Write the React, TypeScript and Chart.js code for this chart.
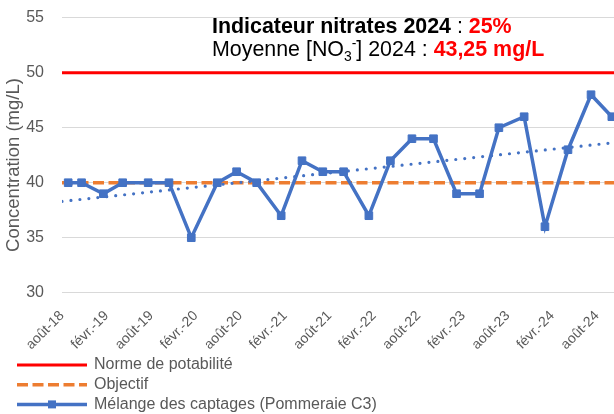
import React, { useEffect, useRef } from 'react';
import { Chart, registerables } from 'chart.js';

Chart.register(...registerables);

// ---------- Data ----------
const X_TICK_LABELS = [
  'août-18', 'févr.-19', 'août-19', 'févr.-20', 'août-20', 'févr.-21', 'août-21',
  'févr.-22', 'août-22', 'févr.-23', 'août-23', 'févr.-24', 'août-24',
];
const X_TICK_STEP_MONTHS = 6;
const AXIS_START_YEAR = 2018;
const AXIS_START_MONTH = 8;
const AXIS_END_MONTHS = 75.1;

const SAMPLE_DATES = [
  '2018-08-26', '2018-10-20', '2019-01-18', '2019-04-06', '2019-07-19', '2019-10-13',
  '2020-01-13', '2020-04-28', '2020-07-16', '2020-10-07', '2021-01-16', '2021-04-10',
  '2021-07-04', '2021-09-28', '2022-01-10', '2022-04-07', '2022-07-04', '2022-10-01',
  '2023-01-04', '2023-04-07', '2023-06-25', '2023-10-07', '2024-01-01', '2024-04-04',
  '2024-07-07', '2024-10-01',
];
const NITRATE_VALUES = [
  40, 40, 39, 40, 40, 40,
  35, 40, 41, 40, 37, 42,
  41, 41, 37, 42, 44, 44,
  39, 39, 45, 46, 36, 43,
  48, 46,
];
const NORME_VALUE = 50;
const OBJECTIF_VALUE = 40;
const TREND_START_VALUE = 38.3;
const TREND_END_VALUE = 43.7;

const Y_MIN = 30;
const Y_MAX = 55;
const Y_STEP = 5;

const SERIES_LABELS = [
  'Norme de potabilité',
  'Objectif',
  'Mélange des captages (Pommeraie C3)',
  'Linéaire (Mélange des captages (Pommeraie C3))',
];
const Y_TITLE = 'Concentration (mg/L)';
const TITLE_LINE_1 = ['Indicateur nitrates 2024', ' : ', '25%'];
const TITLE_LINE_2 = ['Moyenne [NO', '3', '-', '] 2024 : ', '43,25 mg/L'];

// ---------- Styles ----------
const FONT = "'Liberation Sans', Arial, Helvetica, sans-serif";
const GRAY = '#595959';
const RED = '#FF0000';
const ORANGE = '#ED7D31';
const BLUE = '#4472C4';

function monthsFromStart(dateStr: string): number {
  const [y, m, d] = dateStr.split('-').map(Number);
  return (y - AXIS_START_YEAR) * 12 + (m - AXIS_START_MONTH) + (d - 1) / 30;
}

type Run = { text: string; bold?: boolean; color?: string; scale?: number; dy?: number };

function drawRuns(ctx: CanvasRenderingContext2D, x: number, y: number, runs: Run[], size: number) {
  let cx = x;
  for (const r of runs) {
    const s = size * (r.scale ?? 1);
    ctx.font = `${r.bold ? 'bold ' : ''}${s}px ${FONT}`;
    ctx.fillStyle = r.color ?? '#000000';
    ctx.textAlign = 'left';
    ctx.textBaseline = 'alphabetic';
    ctx.fillText(r.text, cx, y + (r.dy ?? 0));
    cx += ctx.measureText(r.text).width;
  }
}

const overlayPlugin = {
  id: 'overlay',
  afterDraw(chart: any) {
    const ctx: CanvasRenderingContext2D = chart.ctx;
    ctx.save();

    // Title block
    const TS = 21.4;
    drawRuns(ctx, 212, 33, [
      { text: TITLE_LINE_1[0], bold: true },
      { text: TITLE_LINE_1[1] },
      { text: TITLE_LINE_1[2], bold: true, color: RED },
    ], TS);
    drawRuns(ctx, 212, 56, [
      { text: TITLE_LINE_2[0] },
      { text: TITLE_LINE_2[1], scale: 0.65, dy: 5 },
      { text: TITLE_LINE_2[2], scale: 0.65, dy: -8 },
      { text: TITLE_LINE_2[3] },
      { text: TITLE_LINE_2[4], bold: true, color: RED },
    ], TS);

    // Y axis title
    ctx.save();
    ctx.translate(14, 165);
    ctx.rotate(-Math.PI / 2);
    ctx.font = `18.5px ${FONT}`;
    ctx.fillStyle = GRAY;
    ctx.textAlign = 'center';
    ctx.textBaseline = 'middle';
    ctx.fillText(Y_TITLE, 0, 0);
    ctx.restore();

    // Legend (vertical list, bottom-left)
    const rowY0 = 365;
    const rowStep = 19.7;
    let row = 0;
    chart.data.datasets.forEach((ds: any) => {
      if (ds.legend === false) return;
      const yy = rowY0 + row * rowStep;
      ctx.save();
      ctx.strokeStyle = ds.borderColor;
      ctx.lineWidth = ds.borderWidth;
      ctx.setLineDash(ds.borderDash || []);
      ctx.lineCap = 'butt';
      ctx.beginPath();
      ctx.moveTo(17, yy);
      ctx.lineTo(87, yy);
      ctx.stroke();
      ctx.setLineDash([]);
      if (ds.pointRadius > 0) {
        ctx.fillStyle = ds.pointBackgroundColor;
        ctx.fillRect(52 - 4, yy - 4, 8, 8);
      }
      ctx.font = `16px ${FONT}`;
      ctx.fillStyle = GRAY;
      ctx.textAlign = 'left';
      ctx.textBaseline = 'middle';
      ctx.fillText(ds.label, 94, yy);
      ctx.restore();
      row++;
    });

    ctx.restore();
  },
};

export default function App() {
  const canvasRef = useRef<HTMLCanvasElement | null>(null);

  useEffect(() => {
    if (!canvasRef.current) return;
    const xs = SAMPLE_DATES.map(monthsFromStart);
    const mainData = xs.map((x, i) => ({ x, y: NITRATE_VALUES[i] }));

    const chart = new Chart(canvasRef.current, {
      type: 'line',
      data: {
        datasets: [
          {
            label: SERIES_LABELS[0],
            data: [{ x: 0, y: NORME_VALUE }, { x: AXIS_END_MONTHS, y: NORME_VALUE }],
            borderColor: RED,
            backgroundColor: RED,
            borderWidth: 3,
            pointRadius: 0,
            order: 4,
          },
          {
            label: SERIES_LABELS[1],
            data: [{ x: 0, y: OBJECTIF_VALUE }, { x: AXIS_END_MONTHS, y: OBJECTIF_VALUE }],
            borderColor: ORANGE,
            backgroundColor: ORANGE,
            borderWidth: 3.5,
            borderDash: [11, 4.5],
            pointRadius: 0,
            order: 3,
          },
          {
            label: SERIES_LABELS[2],
            data: mainData,
            borderColor: BLUE,
            backgroundColor: BLUE,
            borderWidth: 3.5,
            pointStyle: 'rect',
            pointRadius: 5.4,
            pointBorderWidth: 1,
            pointBackgroundColor: BLUE,
            pointBorderColor: BLUE,
            tension: 0,
            order: 1,
          },
          {
            label: SERIES_LABELS[3],
            legend: false,
            data: [{ x: 0, y: TREND_START_VALUE }, { x: AXIS_END_MONTHS, y: TREND_END_VALUE }],
            borderColor: BLUE,
            backgroundColor: BLUE,
            borderWidth: 3.2,
            borderDash: [0, 9],
            borderCapStyle: 'round',
            pointRadius: 0,
            order: 2,
          } as any,
        ],
      },
      options: {
        animation: false,
        responsive: false,
        events: [],
        layout: { padding: { top: 17.7, left: 0, right: 10, bottom: 61.3 } },
        plugins: {
          legend: { display: false },
          tooltip: { enabled: false },
          title: { display: false },
        },
        scales: {
          x: {
            type: 'linear',
            min: 0,
            max: AXIS_END_MONTHS,
            grid: { display: false, drawTicks: false },
            border: { display: false },
            afterBuildTicks: (scale: any) => {
              scale.ticks = X_TICK_LABELS.map((_, i) => ({ value: i * X_TICK_STEP_MONTHS }));
            },
            afterFit: (scale: any) => {
              scale.height = 60;
            },
            ticks: {
              autoSkip: false,
              minRotation: 45,
              maxRotation: 45,
              padding: 15,
              color: GRAY,
              font: { family: FONT, size: 14 },
              callback: (value: any) => {
                const idx = Math.round(Number(value) / X_TICK_STEP_MONTHS);
                return X_TICK_LABELS[idx] ?? '';
              },
            },
          },
          y: {
            type: 'linear',
            min: Y_MIN,
            max: Y_MAX,
            grid: { color: '#D9D9D9', lineWidth: 1, drawTicks: false },
            border: { display: false },
            afterFit: (scale: any) => {
              scale.width = 62;
              scale.paddingTop = 0;
              scale.paddingBottom = 0;
            },
            ticks: {
              stepSize: Y_STEP,
              padding: 18,
              color: GRAY,
              font: { family: FONT, size: 16 },
            },
          },
        },
      },
      plugins: [overlayPlugin],
    } as any);

    return () => chart.destroy();
  }, []);

  return (
    <div style={{ position: 'absolute', left: 0, top: 0, width: 614, height: 414, overflow: 'hidden', background: '#fff' }}>
      <canvas ref={canvasRef} width={630} height={414} style={{ display: 'block' }} />
    </div>
  );
}
